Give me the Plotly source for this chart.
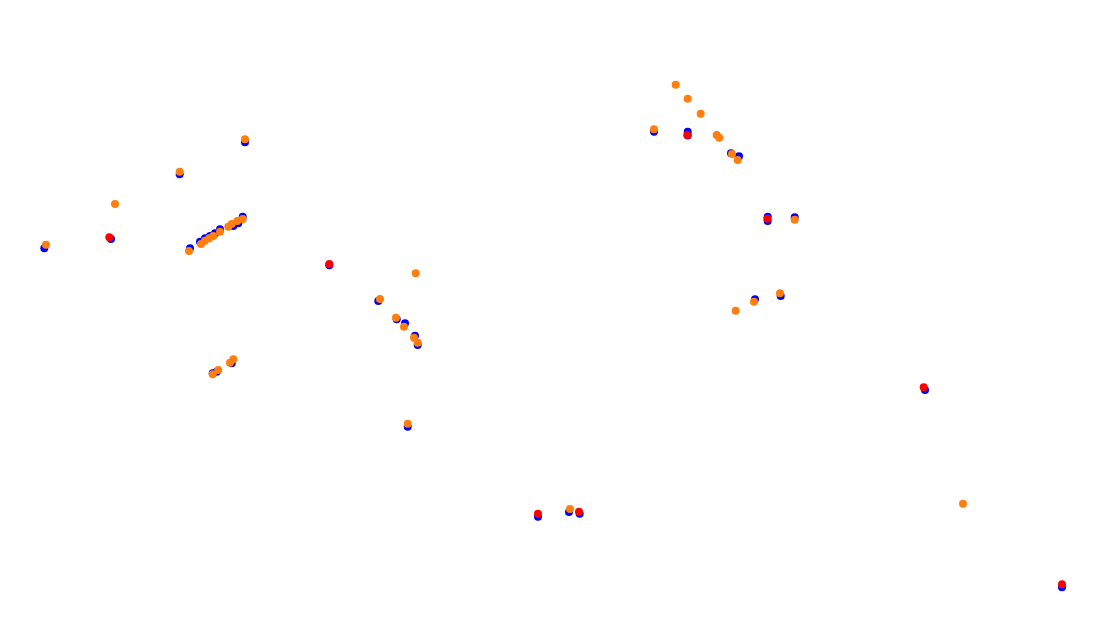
import plotly.graph_objects as go

# Blue series
blue_x = [44.3, 111, 179.7, 245, 190, 200, 205, 210, 215, 220, 233.3, 238.3, 242.7,
          212.7, 216.7, 231.7,
          329.3, 378.3, 396.7, 405, 415, 417.7, 407.7,
          654, 687.7, 687.7, 731, 739, 767.7, 767.7, 794.7, 780.7, 755,
          538, 569, 579.7, 925, 1062]
blue_y = [248.3, 239, 174.3, 142.3, 248.3, 241.7, 238.3, 236, 233.3, 229.3, 226, 223.3, 216.7,
          373.3, 371.7, 363.3,
          265.3, 301, 319.3, 323.3, 335.7, 345, 426.7,
          131.7, 131.7, 135.5, 153.3, 156.3, 216.7, 221, 217.3, 296, 299.3,
          516.7, 512, 513.7, 390, 587.3]

# Red series
red_x = [109.3, 329.3, 687.3, 767.3, 538, 579, 923.7, 1062]
red_y = [237.3, 264, 135, 218.7, 513.7, 511.7, 387.3, 584.3]

# Orange series
orange_x = [46, 115, 179.7, 245, 189, 201, 205, 209.3, 213.3, 220, 228.3, 231.7, 237.3, 242.7,
            212.7, 218.3, 230, 233.3,
            415.7, 380, 396, 404, 414, 417.7, 407.7,
            675.7, 687.7, 700.7, 654, 716.7, 719.3, 732, 737.7, 794.7, 780, 754, 735.7,
            570, 963]
orange_y = [244.7, 204, 171.7, 139.3, 251, 244, 240.7, 238.3, 236, 231.7, 226.7, 224, 221, 219,
            374.3, 370, 362.7, 359.3,
            273.3, 299, 317.7, 326.7, 337.7, 342.7, 423.7,
            84.7, 98.7, 113.7, 129.3, 135, 137.7, 154, 160, 219.7, 293.3, 301.7, 310.7,
            509, 503.7]

fig = go.Figure()
fig.add_trace(go.Scatter(x=blue_x, y=blue_y, mode="markers",
                         marker=dict(color="#0000ff", size=8, line=dict(width=0))))
fig.add_trace(go.Scatter(x=red_x, y=red_y, mode="markers",
                         marker=dict(color="#ff0000", size=8, line=dict(width=0))))
fig.add_trace(go.Scatter(x=orange_x, y=orange_y, mode="markers",
                         marker=dict(color="#ff7f0e", size=8, line=dict(width=0))))

fig.update_layout(
    width=1107, height=635,
    margin=dict(l=0, r=0, t=0, b=0),
    paper_bgcolor="white", plot_bgcolor="white",
    showlegend=False,
    xaxis=dict(range=[8, 1115], visible=False, showgrid=False, zeroline=False),
    yaxis=dict(range=[643, 8], visible=False, showgrid=False, zeroline=False),
)

fig.write_html("out.html")
